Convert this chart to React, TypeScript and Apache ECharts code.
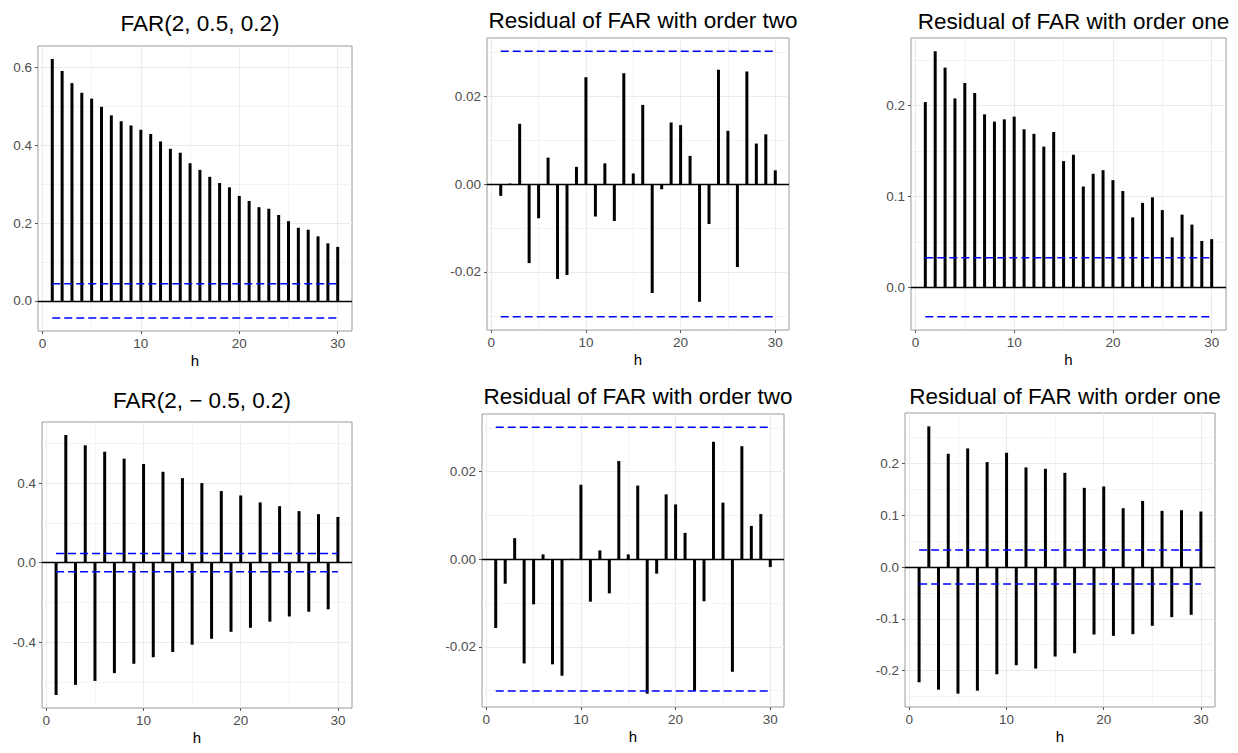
import { useEffect, useRef } from "react";
import * as echarts from "echarts";

// ---------- data ----------
const lags = [1, 2, 3, 4, 5, 6, 7, 8, 9, 10, 11, 12, 13, 14, 15, 16, 17, 18, 19, 20, 21, 22, 23, 24, 25, 26, 27, 28, 29, 30];

const titles = [
  "FAR(2, 0.5, 0.2)",
  "Residual of FAR with order two",
  "Residual of FAR with order one",
  "FAR(2, \u2212 0.5, 0.2)",
  "Residual of FAR with order two",
  "Residual of FAR with order one",
];

const acfFar1 = [0.622, 0.591, 0.560, 0.535, 0.520, 0.499, 0.477, 0.462, 0.451, 0.440, 0.429, 0.410, 0.391, 0.381, 0.354, 0.337, 0.319, 0.303, 0.292, 0.270, 0.257, 0.241, 0.237, 0.221, 0.205, 0.188, 0.183, 0.166, 0.148, 0.139];
const acfResTwo1 = [-0.0027, 0.0001, 0.0137, -0.0180, -0.0078, 0.0060, -0.0216, -0.0207, 0.0039, 0.0243, -0.0074, 0.0047, -0.0084, 0.0252, 0.0024, 0.0180, -0.0248, -0.0012, 0.0140, 0.0134, 0.0064, -0.0268, -0.0091, 0.0260, 0.0121, -0.0189, 0.0256, 0.0092, 0.0113, 0.0031];
const acfResOne1 = [0.204, 0.260, 0.242, 0.208, 0.225, 0.214, 0.1905, 0.1825, 0.185, 0.188, 0.174, 0.169, 0.155, 0.171, 0.139, 0.146, 0.111, 0.125, 0.129, 0.118, 0.106, 0.077, 0.093, 0.099, 0.085, 0.055, 0.080, 0.069, 0.051, 0.053];
const acfFar2 = [-0.666, 0.642, -0.615, 0.590, -0.595, 0.558, -0.556, 0.523, -0.509, 0.496, -0.476, 0.457, -0.450, 0.425, -0.413, 0.400, -0.383, 0.360, -0.348, 0.338, -0.328, 0.303, -0.297, 0.284, -0.271, 0.259, -0.247, 0.244, -0.235, 0.230];
const acfResTwo2 = [-0.0157, -0.0056, 0.0048, -0.0238, -0.0103, 0.0011, -0.0240, -0.0266, 0.0001, 0.0170, -0.0097, 0.0020, -0.0078, 0.0224, 0.0011, 0.0168, -0.0307, -0.0033, 0.0148, 0.0125, 0.0060, -0.0301, -0.0096, 0.0268, 0.0129, -0.0257, 0.0258, 0.0076, 0.0103, -0.0018];
const acfResOne2 = [-0.2226, 0.2716, -0.2368, 0.2187, -0.2445, 0.2290, -0.2387, 0.2026, -0.2071, 0.2206, -0.1897, 0.1923, -0.1961, 0.1897, -0.1729, 0.1819, -0.1665, 0.1529, -0.1303, 0.1555, -0.1329, 0.1135, -0.1297, 0.1277, -0.1135, 0.1084, -0.0968, 0.1097, -0.0923, 0.1071];

const seriesValues = [acfFar1, acfResTwo1, acfResOne1, acfFar2, acfResTwo2, acfResOne2];
const bounds = [0.044, 0.0302, 0.0325, 0.046, 0.0301, 0.0329];

const xMajor = [0, 10, 20, 30];
const xMinor = [5, 15, 25];
const yMajorTicks = [
  [0, 0.2, 0.4, 0.6],
  [-0.02, 0, 0.02],
  [0, 0.1, 0.2],
  [-0.4, 0, 0.4],
  [-0.02, 0, 0.02],
  [-0.2, -0.1, 0, 0.1, 0.2],
];
const yMinorTicks = [
  [0.1, 0.3, 0.5],
  [-0.03, -0.01, 0.01, 0.03],
  [0.05, 0.15, 0.25],
  [-0.6, -0.2, 0.2, 0.6],
  [-0.03, -0.01, 0.01, 0.03],
  [-0.25, -0.15, -0.05, 0.05, 0.15, 0.25],
];
const yDecimals = [1, 2, 1, 1, 2, 1];

// ---------- layout ----------
const gridBoxes = [
  { left: 38, top: 46, width: 314, height: 285 },
  { left: 487, top: 38, width: 302, height: 292 },
  { left: 911, top: 38, width: 315, height: 292 },
  { left: 42, top: 422, width: 310, height: 286 },
  { left: 482, top: 414, width: 302, height: 293 },
  { left: 905, top: 413, width: 310, height: 294 },
];
const titleTops = [7, 4, 5, 384, 379.5, 380];

const FONT = "'Liberation Sans', Arial, Helvetica, sans-serif";

function buildOption() {
  const grid: any[] = [];
  const xAxis: any[] = [];
  const yAxis: any[] = [];
  const series: any[] = [];
  const title: any[] = [];

  const xLo = Math.min(...lags);
  const xHi = Math.max(...lags);
  const xPad = 0.05 * (xHi - xLo);

  seriesValues.forEach((vals, i) => {
    const b = bounds[i];
    const lo = Math.min(0, -b, ...vals);
    const hi = Math.max(0, b, ...vals);
    const pad = 0.05 * (hi - lo);
    const box = gridBoxes[i];

    grid.push({
      ...box,
      show: true,
      backgroundColor: "#ffffff",
      borderColor: "#9a9a9a",
      borderWidth: 1,
    });

    title.push({
      text: titles[i],
      left: box.left + box.width / 2,
      top: titleTops[i],
      textAlign: "center",
      textStyle: { fontSize: 22.5, fontWeight: "normal", color: "#000", fontFamily: FONT },
    });

    xAxis.push({
      type: "value",
      gridIndex: i,
      min: xLo - xPad,
      max: xHi + xPad,
      name: "h",
      nameLocation: "middle",
      nameGap: 22,
      nameTextStyle: { fontSize: 15, color: "#000", fontFamily: FONT },
      axisLine: { show: false, onZero: false },
      axisTick: { show: true, length: 3, customValues: xMajor, lineStyle: { color: "#555", width: 1 } },
      axisLabel: { customValues: xMajor, color: "#4d4d4d", fontSize: 13.5, margin: 5, fontFamily: FONT },
      splitLine: { show: false },
    });

    yAxis.push({
      type: "value",
      gridIndex: i,
      min: lo - pad,
      max: hi + pad,
      axisLine: { show: false, onZero: false },
      axisTick: { show: true, length: 3, customValues: yMajorTicks[i], lineStyle: { color: "#555", width: 1 } },
      axisLabel: {
        customValues: yMajorTicks[i],
        color: "#4d4d4d",
        fontSize: 13.5,
        margin: 6,
        fontFamily: FONT,
        formatter: (v: number) => v.toFixed(yDecimals[i]),
      },
      splitLine: { show: false },
    });

    const minorStyle = { width: 0.55, color: "#ebebeb", type: "solid" };
    const majorStyle = { width: 1.1, color: "#ebebeb", type: "solid" };
    const gridLines: any[] = [];
    xMinor.forEach((v) => gridLines.push({ xAxis: v, lineStyle: minorStyle }));
    yMinorTicks[i].forEach((v) => gridLines.push({ yAxis: v, lineStyle: minorStyle }));
    xMajor.forEach((v) => gridLines.push({ xAxis: v, lineStyle: majorStyle }));
    yMajorTicks[i].forEach((v) => gridLines.push({ yAxis: v, lineStyle: majorStyle }));

    // stems
    series.push({
      type: "custom",
      xAxisIndex: i,
      yAxisIndex: i,
      z: 2,
      silent: true,
      encode: { x: 0, y: 1 },
      data: lags.map((h, j) => [h, vals[j]]),
      renderItem: (_params: any, api: any) => {
        const h = api.value(0);
        const v = api.value(1);
        const p0 = api.coord([h, 0]);
        const p1 = api.coord([h, v]);
        return {
          type: "line",
          shape: { x1: p0[0], y1: p0[1], x2: p1[0], y2: p1[1] },
          style: { stroke: "#000000", lineWidth: 3, lineCap: "butt" },
        };
      },
    });

    // upper bound (with background grid lines)
    series.push({
      type: "line",
      xAxisIndex: i,
      yAxisIndex: i,
      z: 4,
      silent: true,
      showSymbol: false,
      symbol: "none",
      data: [[lags[0], b], [lags[lags.length - 1], b]],
      lineStyle: { color: "#0000ff", width: 1.4, type: [8, 4] },
      markLine: {
        silent: true,
        z: 1,
        symbol: ["none", "none"],
        label: { show: false },
        emphasis: { disabled: true },
        lineStyle: { type: "solid", color: "#ebebeb" },
        data: gridLines,
      },
    });

    // lower bound (with zero line)
    series.push({
      type: "line",
      xAxisIndex: i,
      yAxisIndex: i,
      z: 4,
      silent: true,
      showSymbol: false,
      symbol: "none",
      data: [[lags[0], -b], [lags[lags.length - 1], -b]],
      lineStyle: { color: "#0000ff", width: 1.4, type: [8, 4] },
      markLine: {
        silent: true,
        z: 3,
        symbol: ["none", "none"],
        label: { show: false },
        emphasis: { disabled: true },
        lineStyle: { color: "#000000", width: 1.4, type: "solid" },
        data: [{ yAxis: 0 }],
      },
    });
  });

  return {
    animation: false,
    backgroundColor: "#ffffff",
    title,
    grid,
    xAxis,
    yAxis,
    series,
  };
}

export default function App() {
  const ref = useRef<HTMLDivElement>(null);

  useEffect(() => {
    document.body.style.margin = "0";
    if (!ref.current) return;
    const chart = echarts.init(ref.current, undefined, { renderer: "svg" });
    chart.setOption(buildOption() as any);
    return () => {
      chart.dispose();
    };
  }, []);

  return (
    <div
      ref={ref}
      style={{ position: "fixed", left: 0, top: 0, width: 1238, height: 753, background: "#fff" }}
    />
  );
}
